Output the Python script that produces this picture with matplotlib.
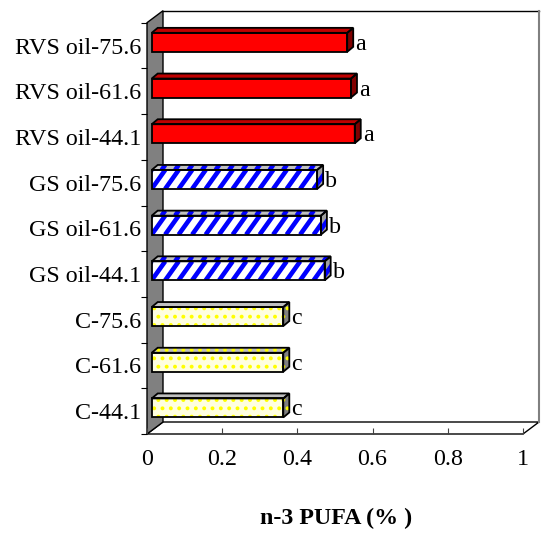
import matplotlib
matplotlib.use("Agg")
import matplotlib.pyplot as plt
from matplotlib.patches import Polygon
from matplotlib.collections import LineCollection
import numpy as np

categories = ["C-44.1", "C-61.6", "C-75.6",
              "GS oil-44.1", "GS oil-61.6", "GS oil-75.6",
              "RVS oil-44.1", "RVS oil-61.6", "RVS oil-75.6"]
n3_pufa = [0.35, 0.35, 0.35, 0.46, 0.45, 0.44, 0.54, 0.53, 0.52]
letters = ["c", "c", "c", "b", "b", "b", "a", "a", "a"]
groups = ["C", "C", "C", "GS", "GS", "GS", "RVS", "RVS", "RVS"]
x_ticks = [0, 0.2, 0.4, 0.6, 0.8, 1]
x_tick_labels = ["0", "0.2", "0.4", "0.6", "0.8", "1"]
x_title = "n-3 PUFA (% )"

plt.rcParams["font.family"] = ["Liberation Serif", "DejaVu Serif"]
plt.rcParams["font.size"] = 17.3

W, H = 546, 533
fig = plt.figure(figsize=(W / 100, H / 100), dpi=100)

# front plane of the pseudo 3-D box, in pixels
x0_px, x1_px = 147, 523
ybot_px, ytop_px = 434, 22.7
ax = fig.add_axes([x0_px / W, 1 - ybot_px / H,
                   (x1_px - x0_px) / W, (ybot_px - ytop_px) / H])
n = len(categories)
ax.set_xlim(0, 1)
ax.set_ylim(-0.5, n - 0.5)
PX = (x1_px - x0_px)
PY = (ybot_px - ytop_px) / n


def off(dx, dy):
    """pixel offsets -> data offsets (dy positive upwards)"""
    return dx / PX, dy / PY


# depth of the box
DX, DY = off(16, 12)
yb, yt = -0.5, n - 0.5

floor = Polygon([(0, yb), (1, yb), (1 + DX, yb + DY), (DX, yb + DY)],
                closed=True, fc="white", ec="black", lw=1.0, clip_on=False, zorder=1)
wall = Polygon([(0, yb), (0, yt), (DX, yt + DY), (DX, yb + DY)],
               closed=True, fc="#808080", ec="black", lw=1.0, clip_on=False, zorder=1)
ax.add_patch(floor)
ax.add_patch(wall)
ax.plot([DX, 1 + DX], [yt + DY, yt + DY], color="black", lw=1.0, clip_on=False, zorder=1)
ax.plot([1 + DX, 1 + DX], [yt + DY, yb + DY], color="#808080", lw=1.5, clip_on=False, zorder=1)

# bars: front face offset into the box, plus their own depth
fx, fy = off(4.7, 3.2)
bdx, bdy = off(6, 5)
h = 19 / PY
ys = np.arange(n) + fy

styles = {
    "RVS": dict(front="#ff0000", top="#c00000", side="#800000"),
    "GS": dict(front="#ffffff", top="#c0c0c0", side="#a0a0a0"),
    "C": dict(front="#ffffe0", top="#c0c0c0", side="#808080"),
}


def stripes(patch, xa, xb, ya, yb_):
    """diagonal blue stripes clipped to a face"""
    sp = 13.5  # px spacing
    slope = 1.4
    hpx = (yb_ - ya) * PY
    run = hpx / slope
    xs_px = np.arange(xa * PX - run - sp, xb * PX + sp, sp)
    segs = [[(x / PX, ya), ((x + run) / PX, yb_)] for x in xs_px]
    lc = LineCollection(segs, colors="#0000ff", linewidths=3.3, zorder=patch.get_zorder() + 0.1)
    ax.add_collection(lc)
    lc.set_clip_path(patch)


for i, (v, g) in enumerate(zip(n3_pufa, groups)):
    st = styles[g]
    y = ys[i]
    ylo, yhi = y - h / 2, y + h / 2
    xl, xr = fx, fx + v
    front_pts = [(xl, ylo), (xr, ylo), (xr, yhi), (xl, yhi)]
    top_pts = [(xl, yhi), (xr, yhi), (xr + bdx, yhi + bdy), (xl + bdx, yhi + bdy)]
    side_pts = [(xr, ylo), (xr + bdx, ylo + bdy), (xr + bdx, yhi + bdy), (xr, yhi)]
    faces = [(front_pts, st["front"]), (top_pts, st["top"]), (side_pts, st["side"])]
    for pts, col in faces:
        if g == "C":
            with plt.rc_context({"hatch.linewidth": 1.6}):
                p = Polygon(pts, closed=True, fc=col, ec="#ffff00", lw=0, hatch="..",
                            clip_on=False, zorder=3)
        else:
            p = Polygon(pts, closed=True, fc=col, ec="none", lw=0, clip_on=False, zorder=3)
        ax.add_patch(p)
        if g == "GS":
            stripes(p, min(q[0] for q in pts), max(q[0] for q in pts),
                    min(q[1] for q in pts), max(q[1] for q in pts))
        ax.add_patch(Polygon(pts, closed=True, fill=False, ec="black", lw=1.3,
                             clip_on=False, zorder=4))
    ax.text(xr + off(8, 0)[0], y - 7.5 / PY, letters[i], ha="left", va="baseline",
            zorder=5, clip_on=False)

for s in ax.spines.values():
    s.set_visible(False)
ax.patch.set_visible(False)

ax.set_xticks(x_ticks, x_tick_labels)
ax.tick_params(axis="x", direction="in", length=4, width=0.8, pad=11, color="#404040")
ax.set_yticks(range(n), categories)
ax.set_yticks(np.arange(-0.5, n), minor=True)
ax.tick_params(axis="y", which="major", length=0, pad=4)
ax.tick_params(axis="y", which="minor", length=4, width=0.8, direction="out")

fig.text(336 / W, 1 - 518 / H, x_title, ha="center", va="center", fontweight="bold")

fig.savefig("out.png", dpi=100)
